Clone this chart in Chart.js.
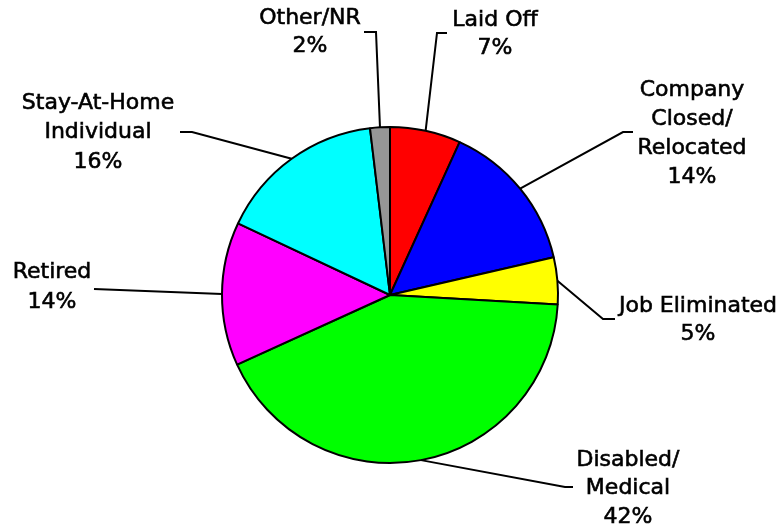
<!DOCTYPE html>
<html>
<head>
<meta charset="utf-8">
<script src="https://cdn.jsdelivr.net/npm/chart.js@4/dist/chart.umd.min.js"></script>
<style>
html,body{margin:0;padding:0;background:#fff;}
#wrap{width:777px;height:529px;position:relative;}
</style>
</head>
<body>
<div id="wrap"><canvas id="c" width="777" height="529"></canvas></div>
<script>
const categories = ["Laid Off", "Company Closed/Relocated", "Job Eliminated", "Disabled/Medical", "Retired", "Stay-At-Home Individual", "Other/NR"];
const shares = [6.8, 14.6, 4.5, 42.3, 13.8, 16.1, 1.9];
const pctLabels = ["7%", "14%", "5%", "42%", "14%", "16%", "2%"];
const labelLines = [["Laid Off"], ["Company", "Closed/", "Relocated"], ["Job Eliminated"], ["Disabled/", "Medical"], ["Retired"], ["Stay-At-Home", "Individual"], ["Other/NR"]];
const colors = ["#FF0000", "#0000FF", "#FFFF00", "#00FF00", "#FF00FF", "#00FFFF", "#969696"];

// annotation layout: elbow point, tick end, text centre and first-line y
const labelLayout = [
  {elbow:[437,33], end:[447,33], tx:495, ty:20, lh:28},
  {elbow:[623,132], end:[633,132], tx:692, ty:90, lh:29},
  {elbow:[603,319], end:[615,319], tx:698, ty:306, lh:28},
  {elbow:[565,487], end:[573,487], tx:628, ty:460, lh:28.5},
  {elbow:[94,289], end:[94,289], tx:52, ty:272, lh:30},
  {elbow:[192,132], end:[180,132], tx:98, ty:103, lh:29.5},
  {elbow:[376,32], end:[364,32], tx:310, ty:18, lh:28}
];

const leaderPlugin = {
  id: 'leaders',
  afterDraw(chart) {
    const ctx = chart.ctx;
    const meta = chart.getDatasetMeta(0);
    ctx.save();
    ctx.strokeStyle = '#000';
    ctx.lineWidth = 2;
    ctx.fillStyle = '#000';
    ctx.font = '22px "DejaVu Sans", Verdana, sans-serif';
    ctx.textAlign = 'center';
    ctx.textBaseline = 'middle';
    meta.data.forEach((arc, i) => {
      const p = arc.getProps(['x','y','startAngle','endAngle','outerRadius'], true);
      const mid = (p.startAngle + p.endAngle) / 2;
      const sx = p.x + Math.cos(mid) * p.outerRadius;
      const sy = p.y + Math.sin(mid) * p.outerRadius;
      const L = labelLayout[i];
      ctx.lineWidth = 2;
      ctx.beginPath();
      ctx.moveTo(sx, sy);
      ctx.lineTo(L.elbow[0], L.elbow[1]);
      ctx.lineTo(L.end[0], L.end[1]);
      ctx.stroke();
      const lines = labelLines[i].concat([pctLabels[i]]);
      ctx.lineWidth = 0.6;
      lines.forEach((t, k) => {
        ctx.fillText(t, L.tx, L.ty + k * L.lh);
        ctx.strokeText(t, L.tx, L.ty + k * L.lh);
      });
    });
    ctx.restore();
  }
};

new Chart(document.getElementById('c'), {
  type: 'pie',
  data: {
    labels: categories,
    datasets: [{
      data: shares,
      backgroundColor: colors,
      borderColor: '#000',
      borderWidth: 2,
      hoverOffset: 0
    }]
  },
  options: {
    responsive: false,
    animation: false,
    radius: 168,
    layout: {padding: {left: 3, right: 0, top: 61, bottom: 0}},
    plugins: {legend: {display: false}, tooltip: {enabled: false}}
  },
  plugins: [leaderPlugin]
});
</script>
</body>
</html>
